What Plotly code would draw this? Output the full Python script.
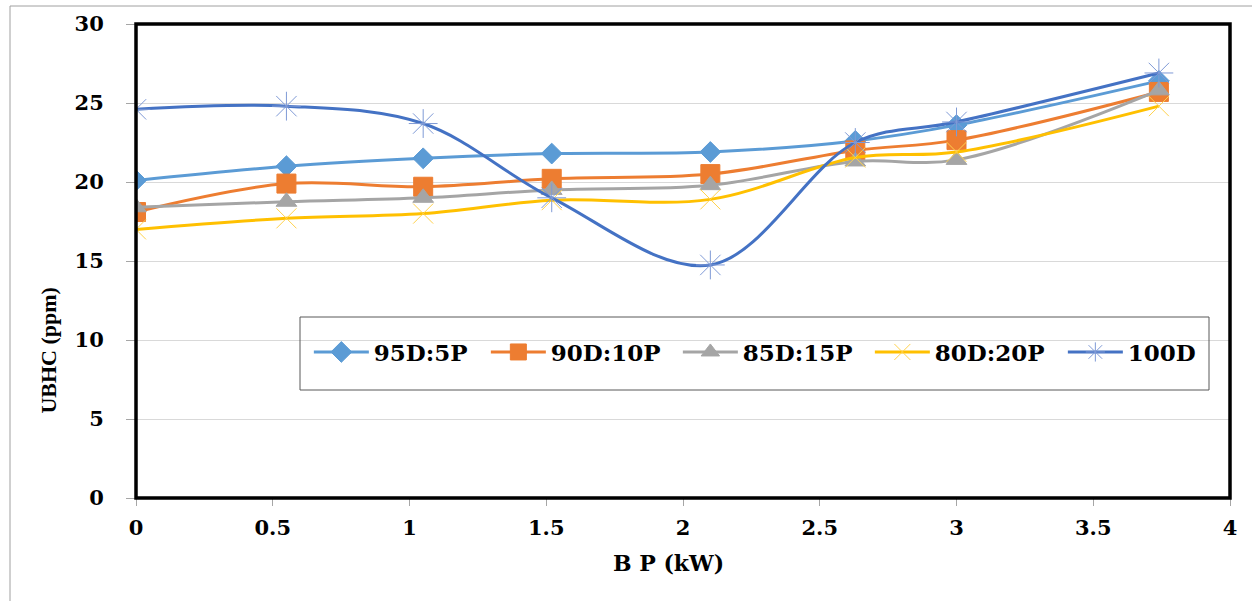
import plotly.graph_objects as go

bp = [0, 0.55, 1.05, 1.52, 2.1, 2.63, 3.0, 3.74]
s95 = [20.1, 21.0, 21.5, 21.8, 21.9, 22.6, 23.6, 26.4]
s90 = [18.1, 19.9, 19.7, 20.2, 20.5, 22.0, 22.65, 25.7]
s85 = [18.4, 18.75, 19.0, 19.5, 19.8, 21.3, 21.4, 25.8]
s80 = [17.0, 17.7, 18.0, 18.85, 18.9, 21.55, 21.9, 24.8]
s100 = [24.6, 24.8, 23.7, 19.0, 14.75, 22.5, 23.8, 26.9]

names = ["95D:5P", "90D:10P", "85D:15P", "80D:20P", "100D"]
series = [s95, s90, s85, s80, s100]
colors = ["#5B9BD5", "#ED7D31", "#A5A5A5", "#FFC000", "#4472C4"]
symbols = ["diamond", "square", "triangle-up", "x-thin-open", "asterisk-open"]
sizes = [16, 19, 18, 20, 24]
mcolors = ["#5B9BD5", "#ED7D31", "#A5A5A5", "#FFD24D", "#7F9AD6"]
lw = [107, 122, 122, 123, 70]

fig = go.Figure()
for n, s, c, sym, sz, mc, w in zip(names, series, colors, symbols, sizes, mcolors, lw):
    fig.add_trace(go.Scatter(
        x=bp, y=s, name=n, mode="lines+markers",
        line=dict(color=c, width=3, shape="spline", smoothing=1),
        marker=dict(symbol=sym, size=sz, color=mc, line=dict(color=mc, width=1)),
        legendwidth=w,
    ))

tickfont = dict(family="DejaVu Serif", size=21, color="black", weight="bold")
fig.update_layout(
    width=1252, height=601,
    margin=dict(l=136, r=22, t=24, b=103, autoexpand=False),
    paper_bgcolor="white", plot_bgcolor="white",
    showlegend=True,
    legend=dict(orientation="h", x=0.158, xanchor="left", y=0.308, yanchor="middle",
                bgcolor="rgba(0,0,0,0)", borderwidth=0, itemwidth=55,
                font=dict(family="DejaVu Serif", size=23, color="black", weight="bold"),
                entrywidthmode="pixels"),
    xaxis=dict(range=[0, 4], dtick=0.5, tick0=0, showgrid=False, zeroline=False,
               ticks="outside", ticklen=7, tickcolor="#A6A6A6", tickfont=tickfont,
               ticklabelstandoff=4, showline=False, automargin=False),
    yaxis=dict(range=[0, 30], dtick=5, tick0=0, showgrid=True, gridcolor="#D9D9D9",
               gridwidth=1, zeroline=False, ticks="outside", ticklen=9, tickcolor="#A6A6A6",
               tickfont=tickfont, ticklabelstandoff=18, showline=False, automargin=False),
    annotations=[
        dict(text="B P (kW)", x=0.4868, y=-0.137, xref="paper", yref="paper",
             xanchor="center", yanchor="middle", showarrow=False,
             font=dict(family="DejaVu Serif", size=22, color="black", weight="bold")),
        dict(text="UBHC (ppm)", x=-0.080, y=0.312, xref="paper", yref="paper",
             xanchor="center", yanchor="middle", showarrow=False, textangle=-90,
             font=dict(family="Liberation Serif", size=22, color="black", weight="bold")),
    ],
    shapes=[
        dict(type="rect", xref="paper", yref="paper", x0=0, x1=1, y0=0, y1=1,
             line=dict(color="black", width=3.5), layer="above"),
        dict(type="rect", xref="paper", yref="paper", x0=(300 - 136) / 1094, x1=(1209 - 136) / 1094,
             y0=(498 - 390) / 474, y1=(498 - 317) / 474,
             line=dict(color="#595959", width=1), layer="above"),
        dict(type="line", xref="paper", yref="paper", x0=(10 - 136) / 1094, x1=(10 - 136) / 1094,
             y0=(498 - 6) / 474, y1=(498 - 601) / 474, line=dict(color="#A0A0A0", width=1)),
        dict(type="line", xref="paper", yref="paper", x0=(10 - 136) / 1094, x1=(1252 - 136) / 1094,
             y0=(498 - 6) / 474, y1=(498 - 6) / 474, line=dict(color="#A0A0A0", width=1)),
    ],
)

fig.write_html("out.html")
